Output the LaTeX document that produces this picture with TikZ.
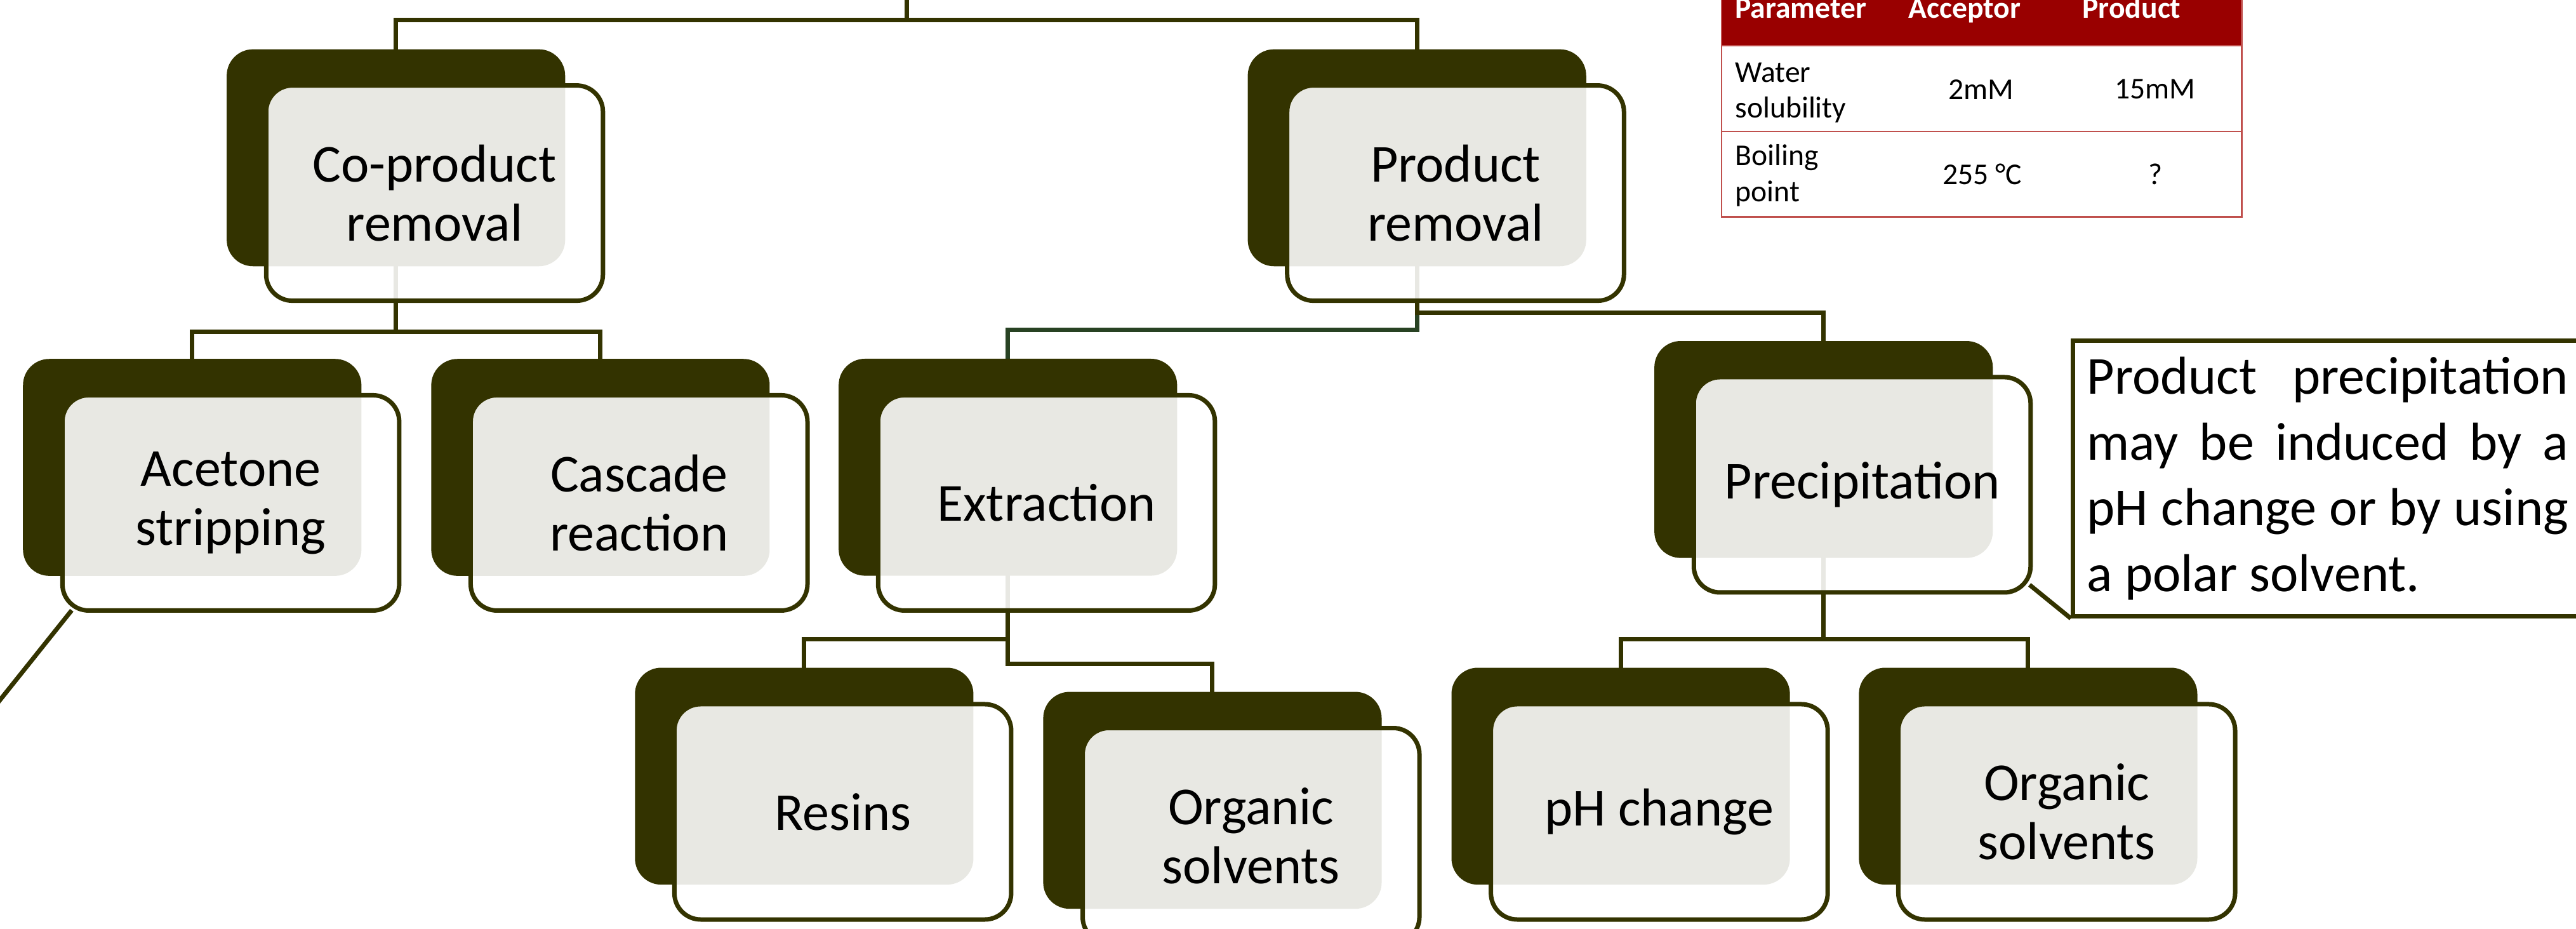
\documentclass[tikz,border=0pt]{standalone}
\usepackage{fontspec}
\setmainfont{Carlito}
\usepackage{tikz}
\usetikzlibrary{positioning}
\usetikzlibrary{backgrounds}
\usetikzlibrary{calc}

\definecolor{darkolive}{RGB}{51,51,0}
\definecolor{linkgreen}{RGB}{40,66,35}
\definecolor{tabred}{RGB}{153,0,0}
\definecolor{tabline}{RGB}{192,80,77}

\newcommand{\boxfnt}{\fontsize{32.5}{36}\selectfont}
\newcommand{\notefnt}{\fontsize{32.5}{40}\selectfont\parindent=0pt\tolerance=9999\hyphenpenalty=10000}
\newcommand{\tabfnt}{\fontsize{18.4}{21.9}\selectfont}

\begin{document}
\begin{tikzpicture} [x=1pt,y=-1pt,
            back/.style={fill=darkolive,rounded corners=16pt,minimum width=206pt,minimum height=132pt,inner sep=0pt},
            front/.style={draw=darkolive,line width=2.7pt,fill=white,fill opacity=0.89,text opacity=1,
                          rounded corners=16pt,minimum width=205pt,minimum height=131pt,inner sep=0pt,font=\boxfnt},
            link/.style={darkolive,line width=2.7pt},
            cell/.style={inner sep=0pt,font=\tabfnt},
         every node/.append style={align=center}]
\useasboundingbox (0,0) rectangle (1568,565);

%CP
\node (cpb) at (241,96) [back] {};
\node (cp) at (264.5,117.5) [front] {Co-product\\removal};

%PR
\node (prb) at (862.5,96) [back] {};
\node (pr) at (886,117.5) [front] {Product\\removal};

%ACE
\node (aceb) at (117,284.4) [back] {};
\node (ace) at (140.5,306) [front] {Acetone\\stripping};

%CAS
\node (casb) at (365.5,284.4) [back] {};
\node (cas) at (389,306) [front] {Cascade\\reaction};

%EXT
\node (extb) at (613.5,284.3) [back] {};
\node (ext) at (637,306) [front] {Extraction};

%PRE
\node (preb) at (1110,273.5) [back] {};
\node (pre) at (1133.5,295) [front] {Precipitation};

%RES
\node (resb) at (489.5,472.3) [back] {};
\node (res) at (513,494) [front] {Resins};

%ORG1
\node (org1b) at (738,487) [back] {};
\node (org1) at (761.5,508.5) [front] {Organic\\solvents};

%PHC
\node (phcb) at (986.5,472.3) [back] {};
\node (phc) at (1010,494) [front] {pH change};

%ORG2
\node (org2b) at (1234.5,472.3) [back] {};
\node (org2) at (1258,494) [front] {Organic\\solvents};

% links
\coordinate (root) at (552,-5);
\begin{pgfonlayer}{background}
   \draw[link] (root) -- ++(0,17) -| (cpb.center);
   \draw[link] (root) -- ++(0,17) -| (prb.center);
   \draw[link] (cpb.center) -- ++(0,105.7) -| (aceb.center);
   \draw[link] (cpb.center) -- ++(0,105.7) -| (casb.center);
   \draw[link,linkgreen] (prb.center) -- ++(0,104.7) -| (extb.center);
   \draw[link] (prb.center) -- ++(0,94.4) -| (preb.center);
   \draw[link] (extb.center) -- ++(0,104.7) -| (resb.center);
   \draw[link] (extb.center) -- ++(0,119.7) -| (org1b.center);
   \draw[link] (preb.center) -- ++(0,115.5) -| (phcb.center);
   \draw[link] (preb.center) -- ++(0,115.5) -| (org2b.center);
\end{pgfonlayer}

%note
\node (note) at (1260.5,206) [anchor=north west,draw=darkolive,line width=2.7pt,fill=white,
      minimum height=167.6pt,text width=293pt,inner xsep=8.5pt,inner ysep=0pt,align=justify,font=\notefnt]
      {Product precipitation may be induced by a pH change or by using a polar solvent.};
\draw[link] ($(pre.south east)+(-2,-6)$) -- (note.south west);

% pointer of acetone
\coordinate (acenote) at (-40,476);
\draw[link] ($(ace.south west)+(7,-1.5)$) -- (acenote);

%table
\fill[tabred] (1047.8,-10) rectangle (1364.6,27.7);
\draw[tabline,line width=0.9pt] (1047.8,-10) rectangle (1364.6,132);
\draw[tabline,line width=0.9pt] (1047.8,27.7) -- (1364.6,27.7);
\draw[tabline,line width=0.9pt] (1047.8,79.9) -- (1364.6,79.9);
\node (hpar) at (1056,10.9) [cell,anchor=base west,text=white,font=\tabfnt\bfseries] {Parameter};
\node (hacc) at (1161.5,10.9) [cell,anchor=base west,text=white,font=\tabfnt\bfseries] {Acceptor};
\node (hprod) at (1267.4,10.9) [cell,anchor=base west,text=white,font=\tabfnt\bfseries] {Product};
\node (wat) at (1056,56.4) [cell,anchor=west,align=left] {Water\\solubility};
\node (watacc) at (1206,54.4) [cell] {2mM};
\node (watprod) at (1311.8,54.4) [cell] {15mM};
\node (boil) at (1056,106.8) [cell,anchor=west,align=left] {Boiling\\point};
\node (boilacc) at (1206.6,105.9) [cell] {255 °C};
\node (boilprod) at (1312,105.9) [cell] {?};

\end{tikzpicture}
\end{document}
